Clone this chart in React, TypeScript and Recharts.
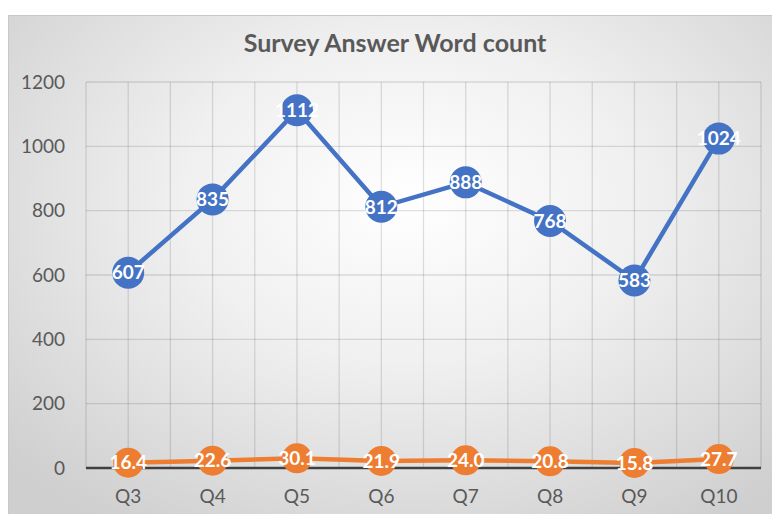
import React from "react";
import {
  CartesianGrid,
  LabelList,
  Line,
  LineChart,
  XAxis,
  YAxis,
} from "recharts";

const categories = ["Q3", "Q4", "Q5", "Q6", "Q7", "Q8", "Q9", "Q10"];
const wordCount = [607, 835, 1112, 812, 888, 768, 583, 1024];
const avgWords = [16.4, 22.6, 30.1, 21.9, 24.0, 20.8, 15.8, 27.7];
const yTicks = [0, 200, 400, 600, 800, 1000, 1200];

const BLUE = "#4472C4";
const ORANGE = "#ED7D31";
const TEXT = "#595959";
const GRID = "rgba(0,0,0,0.12)";

const data = categories.map((name, i) => ({
  i,
  name,
  total: wordCount[i],
  avg: avgWords[i],
}));

// grid lines at category centres and boundaries
const gridTicks: number[] = [];
for (let k = 0; k <= categories.length * 2; k++) gridTicks.push(k / 2 - 0.5);

const W = 772;
const H = 514;

export default function App() {
  return (
    <div
      style={{
        position: "fixed",
        left: 0,
        top: 0,
        width: W,
        height: H,
        overflow: "hidden",
        background: "#fff",
        fontFamily: "Lato, 'Open Sans', sans-serif",
      }}
    >
      <div
        style={{
          position: "absolute",
          left: 8,
          top: 15,
          width: W,
          height: H,
          border: "1px solid #c8c8c8",
          background:
            "radial-gradient(ellipse 70% 75% at 52% 36%, #ffffff 0%, #f0f0f0 42%, #cfcfcf 100%)",
        }}
      />
      <div
        style={{
          position: "absolute",
          left: 0,
          width: W,
          top: 27,
          textAlign: "center",
          paddingLeft: 18,
          boxSizing: "border-box",
          fontSize: 25,
          fontWeight: 700,
          color: TEXT,
        }}
      >
        Survey Answer Word count
      </div>
      <div style={{ position: "absolute", left: 0, top: 0 }}>
        <LineChart
          width={W}
          height={H}
          data={data}
          margin={{ top: 82, right: 11, bottom: 0, left: 5 }}
        >
          <XAxis
            xAxisId="grid"
            type="number"
            dataKey="i"
            domain={[-0.5, categories.length - 0.5]}
            ticks={gridTicks}
            hide
          />
          <CartesianGrid xAxisId="grid" stroke={GRID} strokeWidth={1.3} />
          <XAxis
            type="number"
            dataKey="i"
            domain={[-0.5, categories.length - 0.5]}
            ticks={data.map((d) => d.i)}
            tickFormatter={(v: number) => categories[v]}
            tick={{ fill: TEXT, fontSize: 19 }}
            tickLine={false}
            tickSize={0}
            tickMargin={22}
            axisLine={{ stroke: "#404040", strokeWidth: 2.5 }}
            height={46}
          />
          <YAxis
            domain={[0, 1200]}
            ticks={yTicks}
            tick={{ fill: TEXT, fontSize: 19 }}
            tickLine={false}
            axisLine={false}
            tickSize={0}
            tickMargin={21}
            width={81}
          />
          <Line
            dataKey="total"
            stroke={BLUE}
            strokeWidth={4.5}
            dot={{ r: 16, fill: BLUE, stroke: BLUE, strokeWidth: 0 }}
            activeDot={false}
            isAnimationActive={false}
          >
            <LabelList
              dataKey="total"
              position="center"
              fill="#fff"
              fontSize={19}
              fontWeight={700}
            />
          </Line>
          <Line
            dataKey="avg"
            stroke={ORANGE}
            strokeWidth={4.5}
            dot={{ r: 15, fill: ORANGE, stroke: ORANGE, strokeWidth: 0 }}
            activeDot={false}
            isAnimationActive={false}
          >
            <LabelList
              dataKey="avg"
              position="center"
              fill="#fff"
              fontSize={19}
              fontWeight={700}
              formatter={(v: number) => v.toFixed(1)}
            />
          </Line>
        </LineChart>
      </div>
    </div>
  );
}
